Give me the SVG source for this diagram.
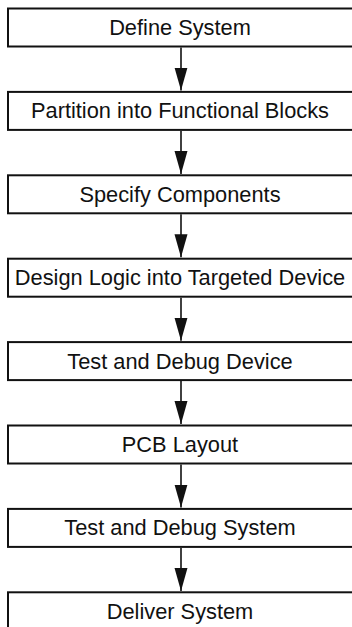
<svg xmlns="http://www.w3.org/2000/svg" width="352" height="627" viewBox="0 0 352 627">
<style>
.box{fill:#fff;stroke:#111;stroke-width:2}
.lbl{font-family:"Liberation Sans",Arial,Helvetica,sans-serif;font-size:21.8px;fill:#111;text-anchor:middle}
.conn{stroke:#111;stroke-width:1.6;fill:none}
</style>
<defs>
<marker id="arr" markerUnits="userSpaceOnUse" markerWidth="24" markerHeight="14" viewBox="0 0 24 14" refX="23" refY="7" orient="auto">
<path d="M0,0.5 L23,7 L0,13.5 Z" fill="#111"/>
</marker>
</defs>
<g id="connectors">
<line class="conn" x1="181" y1="47.5" x2="181" y2="90.5" marker-end="url(#arr)"/>
<line class="conn" x1="181" y1="130.9" x2="181" y2="173.9" marker-end="url(#arr)"/>
<line class="conn" x1="181" y1="214.3" x2="181" y2="257.3" marker-end="url(#arr)"/>
<line class="conn" x1="181" y1="297.7" x2="181" y2="340.7" marker-end="url(#arr)"/>
<line class="conn" x1="181" y1="381.1" x2="181" y2="424.1" marker-end="url(#arr)"/>
<line class="conn" x1="181" y1="464.5" x2="181" y2="507.5" marker-end="url(#arr)"/>
<line class="conn" x1="181" y1="547.9" x2="181" y2="590.9" marker-end="url(#arr)"/>
</g>
<g id="n1"><rect class="box" x="8" y="8.5" width="360" height="38"/><text class="lbl" x="180" y="35">Define System</text></g>
<g id="n2"><rect class="box" x="8" y="91.9" width="360" height="38"/><text class="lbl" x="180" y="118.4">Partition into Functional Blocks</text></g>
<g id="n3"><rect class="box" x="8" y="175.3" width="360" height="38"/><text class="lbl" x="180" y="201.8">Specify Components</text></g>
<g id="n4"><rect class="box" x="8" y="258.7" width="360" height="38"/><text class="lbl" x="180" y="285.2">Design Logic into Targeted Device</text></g>
<g id="n5"><rect class="box" x="8" y="342.1" width="360" height="38"/><text class="lbl" x="180" y="368.6">Test and Debug Device</text></g>
<g id="n6"><rect class="box" x="8" y="425.5" width="360" height="38"/><text class="lbl" x="180" y="452">PCB Layout</text></g>
<g id="n7"><rect class="box" x="8" y="508.9" width="360" height="38"/><text class="lbl" x="180" y="535.4">Test and Debug System</text></g>
<g id="n8"><rect class="box" x="8" y="592.3" width="360" height="38"/><text class="lbl" x="180" y="618.8">Deliver System</text></g>
</svg>
